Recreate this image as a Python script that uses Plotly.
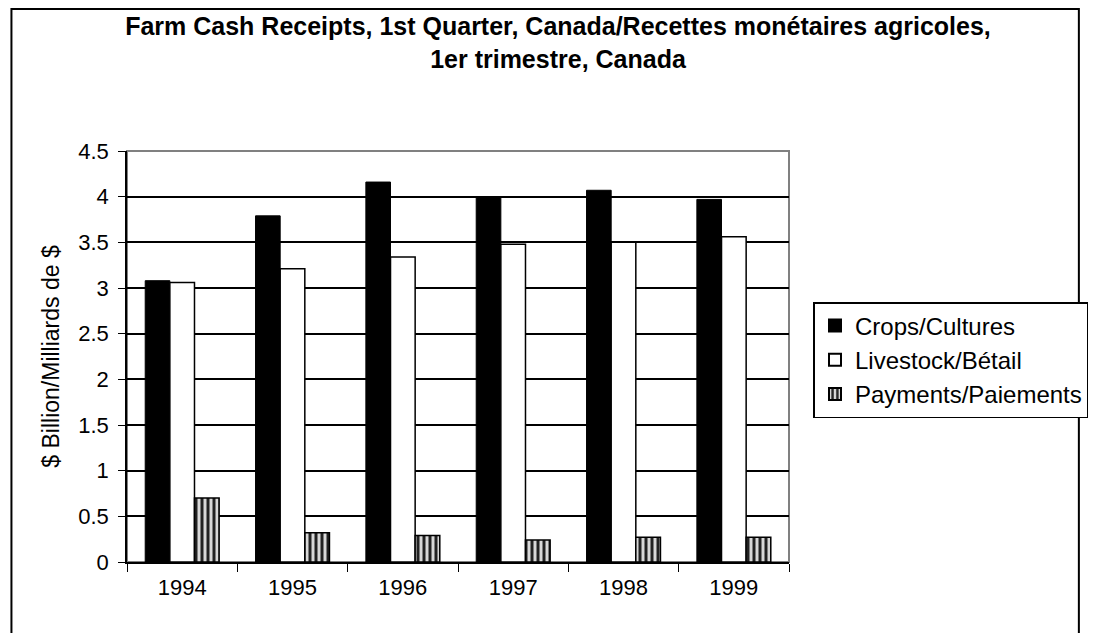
import plotly.graph_objects as go

years = ["1994", "1995", "1996", "1997", "1998", "1999"]
crops = [3.08, 3.79, 4.16, 4.00, 4.07, 3.97]
livestock = [3.06, 3.21, 3.34, 3.48, 3.50, 3.56]
payments = [0.70, 0.32, 0.29, 0.24, 0.27, 0.27]
y_ticks = [0, 0.5, 1, 1.5, 2, 2.5, 3, 3.5, 4, 4.5]
y_ticktext = ["0", "0.5", "1", "1.5", "2", "2.5", "3", "3.5", "4", "4.5"]

title_text = ("Farm Cash Receipts, 1st Quarter, Canada/Recettes monétaires agricoles,"
              "<br>1er trimestre, Canada")
font_family = "Liberation Sans, Arial, sans-serif"

fig = go.Figure()
fig.add_trace(go.Bar(x=years, y=crops, name="Crops/Cultures",
                     marker=dict(color="black", line=dict(color="black", width=1))))
fig.add_trace(go.Bar(x=years, y=livestock, name="Livestock/Bétail",
                     marker=dict(color="white", line=dict(color="black", width=1.5))))
fig.add_trace(go.Bar(x=years, y=payments, name="Payments/Paiements",
                     marker=dict(color="#bbbbbb", line=dict(color="black", width=1.5),
                                 pattern=dict(shape="|", fgcolor="#222222", bgcolor="#d8d8d8",
                                              size=6, solidity=0.5, fillmode="replace"))))

# figure sits inside the page body (8px offset)
W, H = 1093, 625
L, T, B = 119, 143, 71
pw = 676
R = W - L - pw
ph = H - T - B

fig.update_layout(
    width=W, height=H,
    margin=dict(l=L, r=R, t=T, b=B, pad=0),
    paper_bgcolor="white", plot_bgcolor="white",
    font=dict(family=font_family, size=22, color="black"),
    title=dict(text=title_text, x=550 / W, xref="container", xanchor="center",
               y=1 - 27 / H, yref="container", yanchor="top",
               font=dict(family=font_family, size=25, color="black", weight="bold")),
    barmode="group", bargap=0.33, bargroupgap=0,
    showlegend=True,
    legend=dict(x=(820 - L) / pw, xanchor="left", y=(H - B - 294) / ph, yanchor="top",
                bordercolor="black", borderwidth=1.5, bgcolor="white",
                font=dict(family=font_family, size=24, color="black"),
                tracegroupgap=0, itemsizing="constant", itemwidth=30),
    xaxis=dict(type="category", showgrid=False, showline=True, linecolor="black", linewidth=1.5,
               ticks="outside", tickson="boundaries", ticklen=8, tickcolor="black",
               ticklabelstandoff=5,
               tickfont=dict(family=font_family, size=22, color="black")),
    yaxis=dict(range=[0, 4.5], tickvals=y_ticks, ticktext=y_ticktext,
               showgrid=True, gridcolor="black", gridwidth=1.5,
               showline=True, linecolor="black", linewidth=1.5,
               ticks="outside", ticklen=7, tickcolor="black", zeroline=False,
               ticklabelstandoff=5,
               tickfont=dict(family=font_family, size=22, color="black"),
               title=dict(text="$ Billion/Milliards de $", standoff=12,
                          font=dict(family=font_family, size=23, color="black"))),
)

# plot area border (gray) on top/right
fig.add_shape(type="rect", xref="paper", yref="paper", x0=0, x1=1, y0=0, y1=1,
              line=dict(color="#808080", width=2), layer="below")
# chart outer border
fig.add_shape(type="rect", xref="paper", yref="paper",
              x0=(1 - L) / pw, x1=(1091 - L) / pw,
              y0=(H - B - 660) / ph, y1=(H - B - 1) / ph,
              line=dict(color="black", width=2))

fig.write_html("out.html")
